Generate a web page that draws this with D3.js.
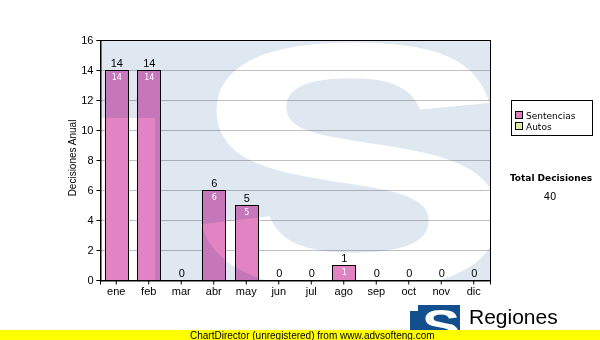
<!DOCTYPE html>
<html>
<head>
<meta charset="utf-8">
<script src="https://cdn.jsdelivr.net/npm/d3@7"></script>
<style>
  body { margin: 0; background: #fff; }
  svg { display: block; }
</style>
</head>
<body>
<div id="chart"></div>
<script>
// Datos del gráfico
const meses = ['ene', 'feb', 'mar', 'abr', 'may', 'jun', 'jul', 'ago', 'sep', 'oct', 'nov', 'dic'];
const sentencias = [14, 14, 0, 6, 5, 0, 0, 1, 0, 0, 0, 0];
const autos = [0, 0, 0, 0, 0, 0, 0, 0, 0, 0, 0, 0];
const yTicks = [0, 2, 4, 6, 8, 10, 12, 14, 16];
const leyenda = ['Sentencias', 'Autos'];
const coloresLeyenda = ['#dd80c0', '#d8f0a0'];

const W = 600, H = 340;
const plot = { left: 100, right: 490, top: 40, bottom: 280 };

const svg = d3.select('#chart').append('svg')
  .attr('width', W).attr('height', H);

const defs = svg.append('defs');
defs.append('clipPath').attr('id', 'clip-plot')
  .append('rect')
  .attr('x', plot.left).attr('y', plot.top)
  .attr('width', plot.right - plot.left).attr('height', plot.bottom - plot.top);

const x = d3.scaleBand().domain(meses).range([plot.left, plot.right])
  .paddingInner(0.3).paddingOuter(0.15);
const y = d3.scaleLinear().domain([0, 16]).range([plot.bottom, plot.top]);

// fondo blanco del área
svg.append('rect')
  .attr('x', plot.left).attr('y', plot.top)
  .attr('width', plot.right - plot.left).attr('height', plot.bottom - plot.top)
  .attr('fill', '#fff');

// líneas de cuadrícula
svg.append('g')
  .selectAll('line')
  .data(yTicks.filter(d => d > 0 && d < 16))
  .enter().append('line')
  .attr('x1', plot.left).attr('x2', plot.right)
  .attr('y1', d => y(d) + 0.5).attr('y2', d => y(d) + 0.5)
  .attr('stroke', '#c0c0c0');

// barras (apiladas: sentencias + autos)
const total = sentencias.map((v, i) => v + autos[i]);
const barras = svg.append('g');
barras.selectAll('rect.sent')
  .data(meses.map((m, i) => ({ m, v: sentencias[i] })).filter(d => d.v > 0))
  .enter().append('rect')
  .attr('class', 'sent')
  .attr('x', d => Math.round(x(d.m)) + 0.5)
  .attr('y', d => y(d.v) + 0.5)
  .attr('width', Math.round(x.bandwidth()))
  .attr('height', d => y(0) - y(d.v))
  .attr('fill', '#e283c4')
  .attr('stroke', '#000')
  .attr('stroke-width', 1);

// marca de agua (logo) sobre el área con multiplicación
const marca = svg.append('g')
  .attr('clip-path', 'url(#clip-plot)')
  .style('mix-blend-mode', 'multiply');
marca.append('rect')
  .attr('x', plot.left).attr('y', plot.top)
  .attr('width', plot.right - plot.left).attr('height', plot.bottom - plot.top)
  .attr('fill', '#dfe8f1');
marca.append('rect')
  .attr('x', plot.left).attr('y', 118)
  .attr('width', 55).attr('height', plot.bottom - 118)
  .attr('fill', '#fff');
marca.append('text')
  .attr('transform', 'translate(352,287) scale(1.42,1)')
  .attr('text-anchor', 'middle')
  .attr('font-family', 'Liberation Sans, Arial')
  .attr('font-weight', 'bold')
  .attr('font-size', 350)
  .attr('fill', '#fff')
  .text('S');

// borde del área
svg.append('rect')
  .attr('x', plot.left + 0.5).attr('y', plot.top + 0.5)
  .attr('width', plot.right - plot.left).attr('height', plot.bottom - plot.top)
  .attr('fill', 'none').attr('stroke', '#000');

// ejes
const yAxis = d3.axisLeft(y).tickValues(yTicks).tickSize(4).tickPadding(3);
svg.append('g')
  .attr('transform', `translate(${plot.left + 0.5},0)`)
  .call(yAxis)
  .call(g => g.select('.domain').attr('stroke', '#000'))
  .call(g => g.selectAll('text').attr('font-family', 'Liberation Sans, Arial').attr('font-size', 11).attr('fill', '#000'));

const xAxis = d3.axisBottom(x).tickSize(4).tickPadding(3);
svg.append('g')
  .attr('transform', `translate(0,${plot.bottom + 0.5})`)
  .call(xAxis)
  .call(g => g.select('.domain').attr('stroke', '#000'))
  .call(g => g.selectAll('text').attr('font-family', 'Liberation Sans, Arial').attr('font-size', 11).attr('fill', '#000'));

// título eje Y
svg.append('text')
  .attr('transform', `translate(76,158) rotate(-90)`)
  .attr('text-anchor', 'middle')
  .attr('font-family', 'Liberation Sans, Arial')
  .attr('font-size', 10)
  .text('Decisiones Anual');

// etiquetas de total sobre las barras
svg.append('g').selectAll('text')
  .data(meses.map((m, i) => ({ m, v: total[i] })))
  .enter().append('text')
  .attr('x', d => x(d.m) + x.bandwidth() / 2 + 0.5)
  .attr('y', d => y(d.v) - 3)
  .attr('text-anchor', 'middle')
  .attr('font-family', 'Liberation Sans, Arial')
  .attr('font-size', 11)
  .attr('fill', '#000')
  .text(d => d.v);

// etiquetas internas
svg.append('g').selectAll('text')
  .data(meses.map((m, i) => ({ m, v: sentencias[i] })).filter(d => d.v > 0))
  .enter().append('text')
  .attr('x', d => x(d.m) + x.bandwidth() / 2 + 0.5)
  .attr('y', d => y(d.v) + 10)
  .attr('text-anchor', 'middle')
  .attr('font-family', 'DejaVu Sans')
  .attr('font-size', 8)
  .attr('fill', '#fff')
  .text(d => d.v);

// leyenda
const leg = svg.append('g');
leg.append('rect')
  .attr('x', 511.5).attr('y', 100.5).attr('width', 81).attr('height', 35)
  .attr('fill', '#fff').attr('stroke', '#000');
leyenda.forEach((t, i) => {
  leg.append('rect')
    .attr('x', 515.5).attr('y', 111.5 + i * 11).attr('width', 7).attr('height', 7)
    .attr('fill', coloresLeyenda[i]).attr('stroke', '#000');
  leg.append('text')
    .attr('x', 526).attr('y', 119 + i * 11)
    .attr('font-family', 'DejaVu Sans').attr('font-size', 9)
    .text(t);
});

// total de decisiones
const totalDecisiones = d3.sum(total);
svg.append('text')
  .attr('x', 551).attr('y', 181)
  .attr('text-anchor', 'middle')
  .attr('font-family', 'DejaVu Sans').attr('font-weight', 'bold').attr('font-size', 9)
  .text('Total Decisiones');
svg.append('text')
  .attr('x', 550).attr('y', 200)
  .attr('text-anchor', 'middle')
  .attr('font-family', 'DejaVu Sans').attr('font-size', 10)
  .text(totalDecisiones);

// logo inferior
const logo = svg.append('g');
logo.append('rect').attr('x', 410).attr('y', 305).attr('width', 50).attr('height', 35).attr('fill', '#124f8c');
logo.append('rect').attr('x', 410).attr('y', 305).attr('width', 8).attr('height', 6).attr('fill', '#fff');
logo.append('text')
  .attr('transform', 'translate(441,341) scale(1.3,1)')
  .attr('text-anchor', 'middle')
  .attr('font-family', 'Liberation Sans, Arial').attr('font-weight', 'bold').attr('font-size', 44)
  .attr('fill', '#fff').text('S');
logo.append('text')
  .attr('x', 469).attr('y', 324)
  .attr('font-family', 'Liberation Sans, Arial').attr('font-size', 21)
  .text('Regiones');
logo.append('text')
  .attr('x', 470).attr('y', 338)
  .attr('font-family', 'Liberation Sans, Arial').attr('font-size', 11)
  .text('Tribunal Supremo de Justicia');

// barra amarilla de pie
svg.append('rect').attr('x', 0).attr('y', 330).attr('width', W).attr('height', 10).attr('fill', '#ffff00');
svg.append('text')
  .attr('x', 190).attr('y', 338.5)
  .attr('font-family', 'Liberation Sans, Arial').attr('font-size', 10)
  .text('ChartDirector (unregistered) from www.advsofteng.com');
</script>
</body>
</html>
